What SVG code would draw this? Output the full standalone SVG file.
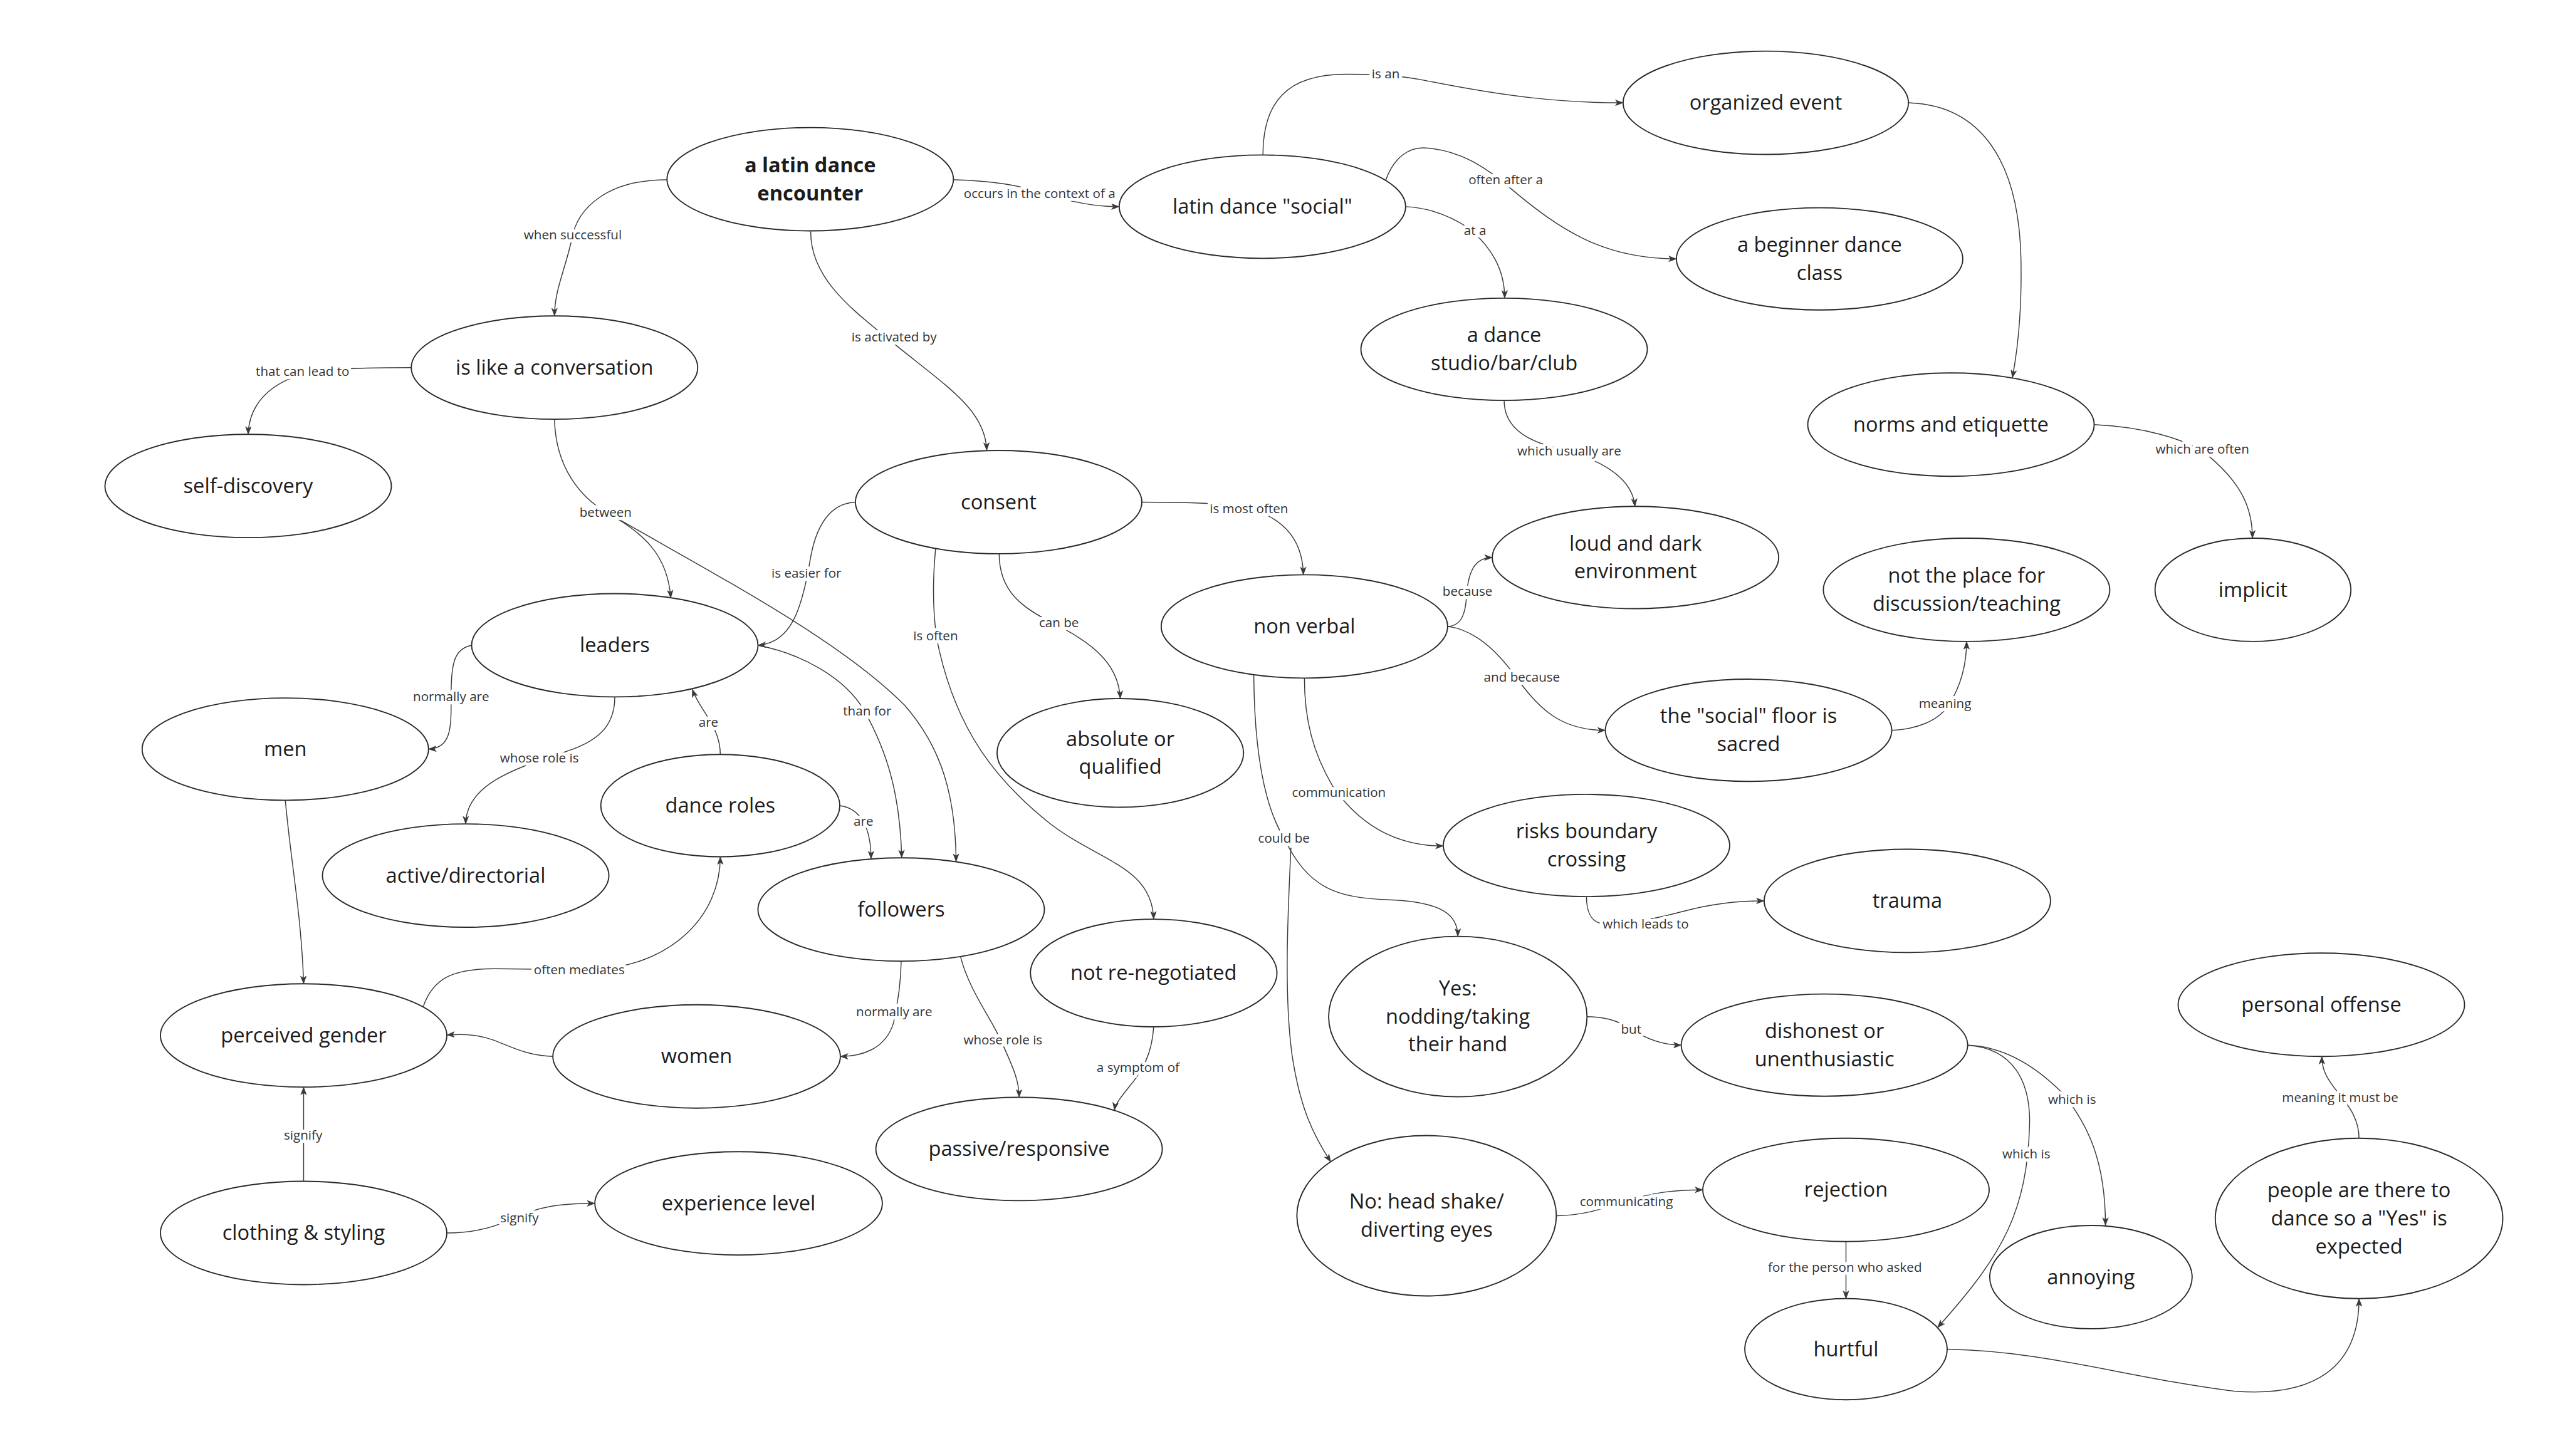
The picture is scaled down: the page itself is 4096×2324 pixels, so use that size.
<svg xmlns="http://www.w3.org/2000/svg" width="4096" height="2324" viewBox="0 0 4096 2324">
<defs>
<style>
.node ellipse{fill:#fff;stroke:#2a2a2a;stroke-width:2.2}
.node text{font-family:"Open Sans","Noto Sans","Liberation Sans",sans-serif;font-size:38px;fill:#1c1c1c;text-anchor:middle}
.node text.b{font-weight:bold}
.edge{fill:none;stroke:#3a3a3a;stroke-width:1.7}
.arr{marker-end:url(#ah)}
.lbl{font-family:"Open Sans","Noto Sans","Liberation Sans",sans-serif;font-size:24px;fill:#333;text-anchor:middle;stroke:#fff;stroke-width:12;paint-order:stroke;stroke-linejoin:round}
</style>
<marker id="ah" markerUnits="userSpaceOnUse" viewBox="0 0 16 12" markerWidth="16" markerHeight="12" refX="15" refY="6" orient="auto">
<path d="M0,0 L16,6 L0,12 L4,6 z" fill="#3a3a3a"/>
</marker>
</defs>
<rect width="4096" height="2324" fill="#fff"/>
<g transform="scale(0.859)">
<g id="nodes">
<g id="n-encounter" class="node"><ellipse cx="1505" cy="333" rx="266" ry="96"/><text class="b"><tspan x="1505" y="320">a latin dance</tspan><tspan x="1505" y="372">encounter</tspan></text></g>
<g id="n-conversation" class="node"><ellipse cx="1030" cy="683" rx="266" ry="96"/><text x="1030" y="696">is like a conversation</text></g>
<g id="n-selfdiscovery" class="node"><ellipse cx="461" cy="903" rx="266" ry="96"/><text x="461" y="916">self-discovery</text></g>
<g id="n-social" class="node"><ellipse cx="2345" cy="384" rx="266" ry="96"/><text x="2345" y="397">latin dance "social"</text></g>
<g id="n-organized" class="node"><ellipse cx="3280" cy="191" rx="265" ry="96"/><text x="3280" y="204">organized event</text></g>
<g id="n-beginner" class="node"><ellipse cx="3380" cy="481" rx="266" ry="95"/><text><tspan x="3380" y="468">a beginner dance</tspan><tspan x="3380" y="520">class</tspan></text></g>
<g id="n-studio" class="node"><ellipse cx="2794" cy="649" rx="266" ry="95"/><text><tspan x="2794" y="636">a dance</tspan><tspan x="2794" y="688">studio/bar/club</tspan></text></g>
<g id="n-norms" class="node"><ellipse cx="3624" cy="789" rx="266" ry="96"/><text x="3624" y="802">norms and etiquette</text></g>
<g id="n-implicit" class="node"><ellipse cx="4185" cy="1096" rx="182" ry="96"/><text x="4185" y="1109">implicit</text></g>
<g id="n-notplace" class="node"><ellipse cx="3653" cy="1096" rx="266" ry="96"/><text><tspan x="3653" y="1083">not the place for</tspan><tspan x="3653" y="1135">discussion/teaching</tspan></text></g>
<g id="n-consent" class="node"><ellipse cx="1855" cy="933" rx="266" ry="96"/><text x="1855" y="946">consent</text></g>
<g id="n-nonverbal" class="node"><ellipse cx="2423" cy="1164" rx="266" ry="96"/><text x="2423" y="1177">non verbal</text></g>
<g id="n-loud" class="node"><ellipse cx="3038" cy="1036" rx="266" ry="95"/><text><tspan x="3038" y="1023">loud and dark</tspan><tspan x="3038" y="1075">environment</tspan></text></g>
<g id="n-sacred" class="node"><ellipse cx="3248" cy="1357" rx="266" ry="95"/><text><tspan x="3248" y="1344">the "social" floor is</tspan><tspan x="3248" y="1396">sacred</tspan></text></g>
<g id="n-risks" class="node"><ellipse cx="2947" cy="1571" rx="266" ry="95"/><text><tspan x="2947" y="1558">risks boundary</tspan><tspan x="2947" y="1610">crossing</tspan></text></g>
<g id="n-trauma" class="node"><ellipse cx="3543" cy="1674" rx="266" ry="96"/><text x="3543" y="1687">trauma</text></g>
<g id="n-yes" class="node"><ellipse cx="2708" cy="1889" rx="240" ry="149"/><text><tspan x="2708" y="1850">Yes:</tspan><tspan x="2708" y="1902">nodding/taking</tspan><tspan x="2708" y="1954">their hand</tspan></text></g>
<g id="n-dishonest" class="node"><ellipse cx="3389" cy="1942" rx="266" ry="95"/><text><tspan x="3389" y="1929">dishonest or</tspan><tspan x="3389" y="1981">unenthusiastic</tspan></text></g>
<g id="n-no" class="node"><ellipse cx="2650" cy="2259" rx="241" ry="149"/><text><tspan x="2650" y="2246">No: head shake/</tspan><tspan x="2650" y="2298">diverting eyes</tspan></text></g>
<g id="n-rejection" class="node"><ellipse cx="3429" cy="2211" rx="266" ry="96"/><text x="3429" y="2224">rejection</text></g>
<g id="n-hurtful" class="node"><ellipse cx="3429" cy="2507" rx="188" ry="94"/><text x="3429" y="2520">hurtful</text></g>
<g id="n-annoying" class="node"><ellipse cx="3884" cy="2373" rx="188" ry="96"/><text x="3884" y="2386">annoying</text></g>
<g id="n-offense" class="node"><ellipse cx="4312" cy="1867" rx="266" ry="96"/><text x="4312" y="1880">personal offense</text></g>
<g id="n-people" class="node"><ellipse cx="4382" cy="2264" rx="267" ry="149"/><text><tspan x="4382" y="2225">people are there to</tspan><tspan x="4382" y="2277">dance so a "Yes" is</tspan><tspan x="4382" y="2329">expected</tspan></text></g>
<g id="n-leaders" class="node"><ellipse cx="1142" cy="1199" rx="266" ry="96"/><text x="1142" y="1212">leaders</text></g>
<g id="n-men" class="node"><ellipse cx="530" cy="1392" rx="266" ry="95"/><text x="530" y="1405">men</text></g>
<g id="n-active" class="node"><ellipse cx="865" cy="1627" rx="266" ry="96"/><text x="865" y="1640">active/directorial</text></g>
<g id="n-roles" class="node"><ellipse cx="1338" cy="1497" rx="222" ry="95"/><text x="1338" y="1510">dance roles</text></g>
<g id="n-followers" class="node"><ellipse cx="1674" cy="1690" rx="266" ry="96"/><text x="1674" y="1703">followers</text></g>
<g id="n-renegotiated" class="node"><ellipse cx="2143" cy="1808" rx="229" ry="100"/><text x="2143" y="1821">not re-negotiated</text></g>
<g id="n-passive" class="node"><ellipse cx="1893" cy="2135" rx="266" ry="96"/><text x="1893" y="2148">passive/responsive</text></g>
<g id="n-perceived" class="node"><ellipse cx="564" cy="1924" rx="266" ry="96"/><text x="564" y="1937">perceived gender</text></g>
<g id="n-women" class="node"><ellipse cx="1294" cy="1963" rx="267" ry="96"/><text x="1294" y="1976">women</text></g>
<g id="n-clothing" class="node"><ellipse cx="564" cy="2291" rx="266" ry="96"/><text x="564" y="2304">clothing &amp; styling</text></g>
<g id="n-experience" class="node"><ellipse cx="1372" cy="2236" rx="267" ry="96"/><text x="1372" y="2249">experience level</text></g>
<g id="n-absolute" class="node"><ellipse cx="2081" cy="1399" rx="229" ry="101"/><text><tspan x="2081" y="1386">absolute or</tspan><tspan x="2081" y="1438">qualified</tspan></text></g>
</g>
<g id="connectors">
<path class="edge arr" d="M1239,334 C1130,334 1072,385 1062,445 C1050,500 1030,540 1030,587"/>
<path class="edge arr" d="M764,683 C650,683 580,686 535,705 C480,730 462,770 461,807"/>
<path class="edge" d="M1030,779 C1032,870 1080,925 1125,951"/>
<path class="edge arr" d="M1125,951 C1195,990 1240,1030 1246,1111"/>
<path class="edge arr" d="M1125,951 C1350,1080 1560,1190 1680,1310 C1750,1390 1775,1480 1776,1601"/>
<path class="edge arr" d="M1771,334 C1850,336 1900,346 1935,358 C1985,374 2030,384 2079,384"/>
<path class="edge arr" d="M1506,430 C1505,520 1590,580 1650,630 C1760,720 1830,760 1833,837"/>
<path class="edge arr" d="M2346,288 C2346,190 2390,138 2500,138 C2560,138 2600,140 2650,150 C2800,180 2900,191 3015,191"/>
<path class="edge arr" d="M2574,335 C2590,290 2620,272 2650,275 C2720,280 2770,320 2800,345 C2900,430 2980,481 3114,481"/>
<path class="edge arr" d="M2611,384 C2660,386 2700,405 2730,425 C2770,460 2795,500 2795,554"/>
<path class="edge arr" d="M3545,191 C3680,195 3750,300 3754,480 C3756,580 3748,650 3738,702"/>
<path class="edge arr" d="M3890,789 C3980,793 4060,815 4100,845 C4160,895 4184,940 4184,1000"/>
<path class="edge arr" d="M2794,744 C2794,790 2830,818 2890,832 C2970,852 3032,885 3037,941"/>
<path class="edge arr" d="M2121,933 C2200,933 2260,935 2300,940 C2380,955 2420,1000 2421,1068"/>
<path class="edge arr" d="M1589,933 C1540,935 1515,980 1505,1040 C1490,1130 1470,1195 1408,1199"/>
<path class="edge arr" d="M1408,1199 C1490,1215 1570,1260 1605,1320 C1650,1400 1672,1480 1675,1594"/>
<path class="edge arr" d="M1856,1029 C1856,1100 1900,1130 1960,1160 C2040,1200 2078,1240 2081,1298"/>
<path class="edge arr" d="M1738,1019 C1730,1100 1735,1170 1745,1210 C1780,1360 1850,1450 1950,1530 C2040,1600 2140,1610 2143,1708"/>
<path class="edge arr" d="M876,1199 C845,1205 838,1230 838,1290 C838,1350 840,1390 796,1392"/>
<path class="edge arr" d="M1142,1295 C1142,1350 1110,1380 1040,1400 C950,1430 866,1460 865,1531"/>
<path class="edge arr" d="M1338,1402 C1338,1350 1300,1320 1286,1281"/>
<path class="edge arr" d="M1560,1497 C1600,1502 1618,1540 1618,1596"/>
<path class="edge arr" d="M786,1871 C805,1815 845,1800 920,1800 L1100,1802 C1250,1795 1338,1700 1338,1592"/>
<path class="edge arr" d="M530,1487 C540,1600 560,1700 564,1828"/>
<path class="edge arr" d="M1027,1963 C980,1962 950,1945 915,1932 C880,1920 850,1922 830,1923"/>
<path class="edge arr" d="M1674,1786 C1673,1840 1665,1870 1660,1900 C1645,1950 1600,1963 1561,1963"/>
<path class="edge arr" d="M1784,1777 C1800,1840 1840,1890 1860,1935 C1885,1990 1893,2010 1893,2039"/>
<path class="edge arr" d="M2143,1908 C2140,1960 2120,1990 2105,2010 C2085,2035 2072,2050 2070,2063"/>
<path class="edge arr" d="M564,2195 L564,2020"/>
<path class="edge arr" d="M830,2291 C880,2291 920,2280 950,2265 C1000,2242 1040,2236 1105,2236"/>
<path class="edge arr" d="M2689,1164 C2715,1163 2722,1140 2724,1110 C2727,1060 2740,1036 2772,1036"/>
<path class="edge arr" d="M2689,1164 C2740,1170 2780,1210 2810,1250 C2860,1320 2900,1357 2982,1357"/>
<path class="edge arr" d="M2423,1260 C2423,1340 2440,1400 2475,1460 C2530,1540 2600,1572 2681,1572"/>
<path class="edge" d="M2329,1254 C2330,1400 2350,1500 2385,1557"/>
<path class="edge arr" d="M2385,1557 C2430,1650 2480,1668 2580,1672 C2680,1676 2708,1700 2708,1740"/>
<path class="edge arr" d="M2398,1575 C2392,1700 2385,1850 2400,1960 C2415,2060 2440,2110 2472,2159"/>
<path class="edge arr" d="M2947,1666 C2947,1695 2955,1712 2975,1716 C3050,1716 3100,1700 3140,1690 C3200,1676 3240,1674 3277,1674"/>
<path class="edge arr" d="M2948,1889 C2990,1890 3010,1900 3030,1912 C3060,1932 3090,1942 3123,1942"/>
<path class="edge arr" d="M2891,2259 C2940,2259 2980,2245 3010,2235 C3070,2215 3110,2211 3163,2211"/>
<path class="edge arr" d="M3429,2307 L3429,2413"/>
<path class="edge arr" d="M3655,1942 C3730,1945 3790,1990 3830,2030 C3880,2090 3911,2160 3911,2277"/>
<path class="edge arr" d="M3655,1942 C3740,1948 3772,2010 3770,2090 C3768,2170 3755,2230 3730,2285 C3700,2350 3650,2410 3599,2467"/>
<path class="edge arr" d="M3617,2507 C3800,2510 3950,2560 4150,2585 C4300,2597 4382,2540 4382,2413"/>
<path class="edge arr" d="M4382,2115 C4382,2070 4350,2040 4335,2020 C4320,2000 4313,1985 4313,1963"/>
<path class="edge arr" d="M3514,1357 C3560,1355 3600,1340 3620,1310 C3645,1270 3653,1230 3653,1192"/>
</g>
<g id="labels">
<text class="lbl" x="1064" y="445">when successful</text>
<text class="lbl" x="562" y="699">that can lead to</text>
<text class="lbl" x="1125" y="960">between</text>
<text class="lbl" x="1931" y="368">occurs in the context of a</text>
<text class="lbl" x="1661" y="634">is activated by</text>
<text class="lbl" x="2574" y="146">is an</text>
<text class="lbl" x="2797" y="342">often after a</text>
<text class="lbl" x="2740" y="436">at a</text>
<text class="lbl" x="2915" y="846">which usually are</text>
<text class="lbl" x="4091" y="843">which are often</text>
<text class="lbl" x="2320" y="954">is most often</text>
<text class="lbl" x="1498" y="1073">is easier for</text>
<text class="lbl" x="1611" y="1329">than for</text>
<text class="lbl" x="1967" y="1165">can be</text>
<text class="lbl" x="1738" y="1190">is often</text>
<text class="lbl" x="838" y="1303">normally are</text>
<text class="lbl" x="1002" y="1417">whose role is</text>
<text class="lbl" x="1316" y="1350">are</text>
<text class="lbl" x="1604" y="1534">are</text>
<text class="lbl" x="1076" y="1810">often mediates</text>
<text class="lbl" x="1661" y="1888">normally are</text>
<text class="lbl" x="1863" y="1941">whose role is</text>
<text class="lbl" x="2114" y="1992">a symptom of</text>
<text class="lbl" x="563" y="2118">signify</text>
<text class="lbl" x="965" y="2271">signify</text>
<text class="lbl" x="2726" y="1107">because</text>
<text class="lbl" x="2827" y="1267">and because</text>
<text class="lbl" x="2487" y="1481">communication</text>
<text class="lbl" x="2385" y="1566">could be</text>
<text class="lbl" x="3057" y="1725">which leads to</text>
<text class="lbl" x="3030" y="1921">but</text>
<text class="lbl" x="3021" y="2241">communicating</text>
<text class="lbl" x="3427" y="2363">for the person who asked</text>
<text class="lbl" x="3849" y="2051">which is</text>
<text class="lbl" x="3764" y="2153">which is</text>
<text class="lbl" x="4347" y="2048">meaning it must be</text>
<text class="lbl" x="3613" y="1315">meaning</text>
</g>
</g>
</svg>
